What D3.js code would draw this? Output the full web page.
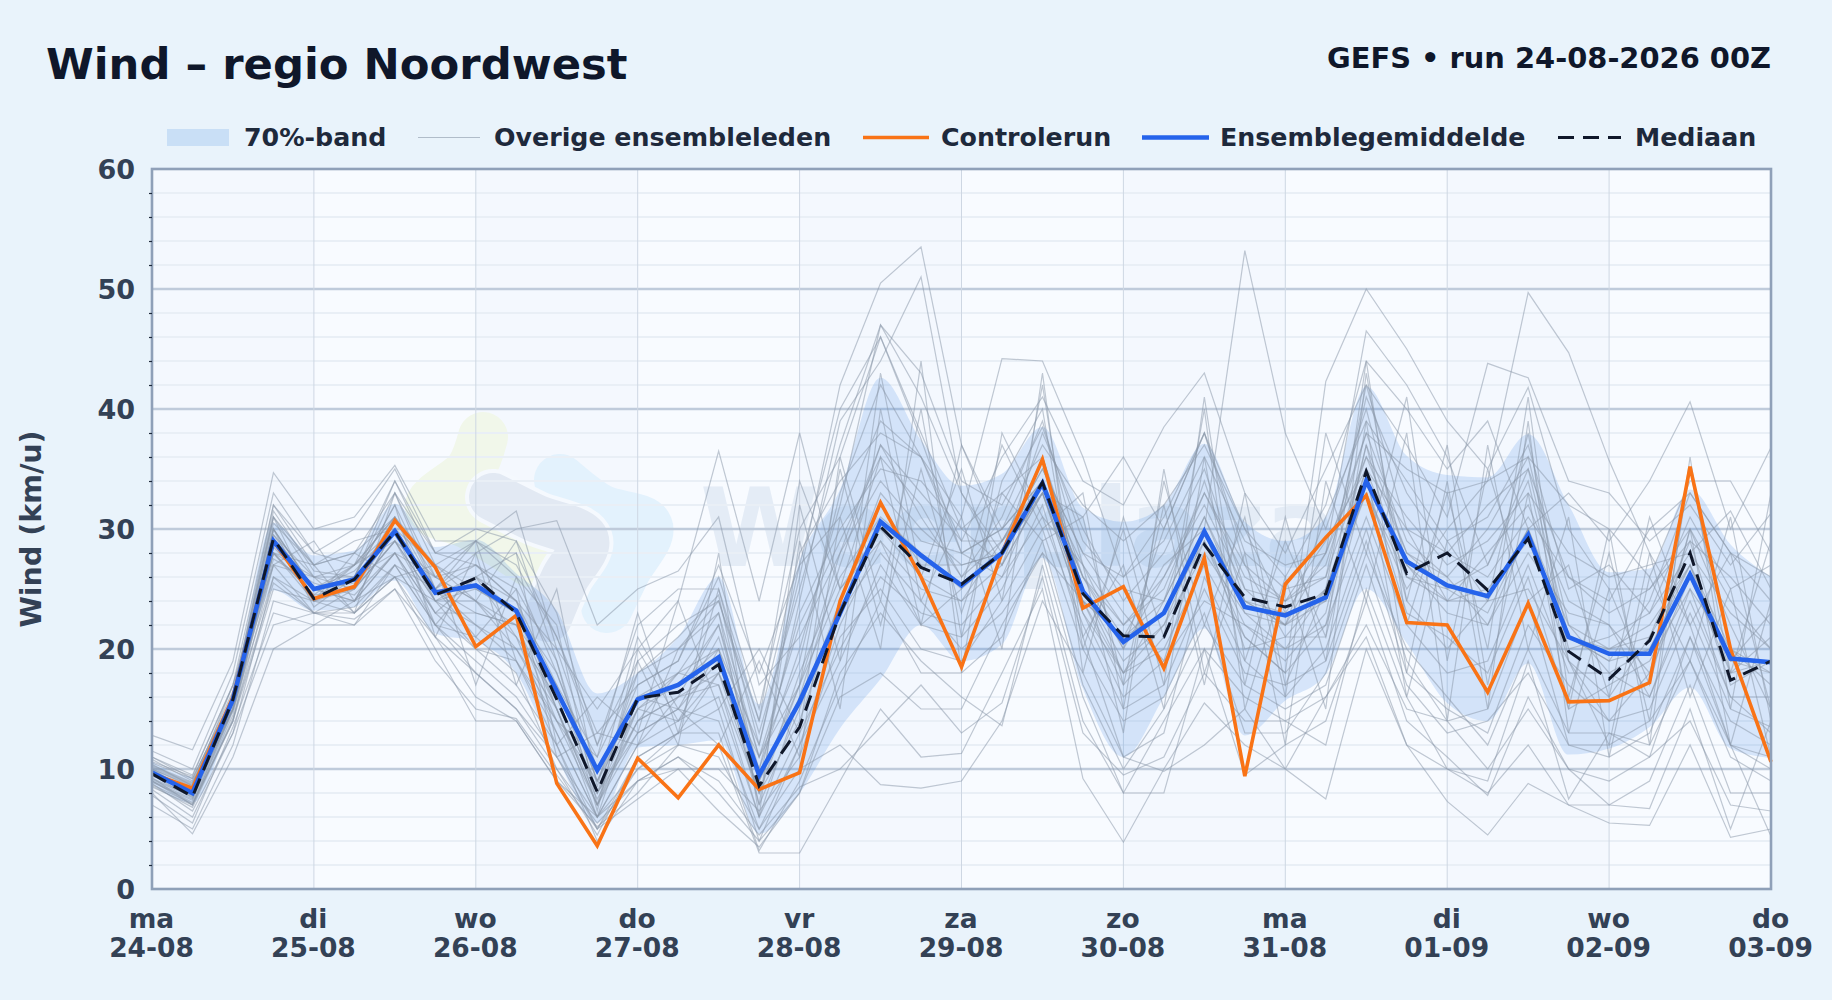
<!DOCTYPE html>
<html lang="nl">
<head>
<meta charset="utf-8">
<title>Wind - regio Noordwest</title>
<script src="https://cdn.jsdelivr.net/npm/d3@7"></script>
<style>
  html, body { margin: 0; padding: 0; background: #e9f3fb; }
  svg { display: block; font-family: "DejaVu Sans", sans-serif; }
</style>
</head>
<body>
<svg id="chart" viewBox="0 0 1832 1000" width="1832" height="1000"></svg>
<script>
// labels on the x axis, one per day
const dayNames = ["ma","di","wo","do","vr","za","zo","ma","di","wo","do"]
const dayDates = ["24-08","25-08","26-08","27-08","28-08","29-08","30-08","31-08","01-09","02-09","03-09"]
const yMajor = [0,10,20,30,40,50,60]
const yMinor = [2,4,6,8,12,14,16,18,22,24,26,28,32,34,36,38,42,44,46,48,52,54,56,58]

// every series has one value per 6 hours
const control = [9.6,8.4,16,29,24.2,25.2,30.7,26.8,20.2,22.8,8.8,3.6,10.9,7.6,12,8.3,9.7,24,32.2,26,18.5,28,35.8,23.4,25.2,18.4,27.6,9.4,25.4,29.3,32.8,22.2,22,16.4,23.8,15.6,15.7,17.2,35.2,20,10.6]
const mean = [9.7,8,15.8,29,25,25.8,29.8,24.7,25.3,23.2,16.5,9.9,15.8,17,19.3,9.5,15.6,23,30.6,27.8,25.3,28,33.8,24.8,20.6,23,29.8,23.5,22.8,24.3,34,27.3,25.3,24.4,29.5,21,19.6,19.6,26.2,19.2,18.9]
const median = [9.6,7.7,15.8,29.2,24.2,25.8,29.8,24.5,25.9,23,15.8,8.1,15.9,16.4,18.7,8.6,13.5,23,30.2,26.8,25.4,28,33.9,24.6,21.1,21,28.7,24.3,23.5,24.6,34.8,26.3,28,24.9,29.2,19.8,17.5,20.7,28,17.4,19]
const bandUpper = [10.6,9.4,16.5,30.5,27.8,28.2,32.1,28.5,29.1,26.3,23.2,16.3,18,21,26,15.4,27.4,33.3,42.6,37.4,33.6,34.6,38.5,31.8,30.6,32,37.1,30.6,29,31,41.9,36.1,34.5,34.3,37.9,32,26.4,26.7,33.3,28.7,26]
const bandLower = [8.8,7.2,14.8,24.9,23.2,23.5,25.7,21.3,20.6,18,11,5.5,11.8,12,12.4,4.6,8,13.4,17.5,22,19,20.4,27.6,16.7,11,16,21.7,12.8,15.7,17.9,25,20.5,15.5,14,18.8,11.2,11.7,13.5,16.8,11.7,10.9]

const members = [
  [10.5,9.2,16,29.5,26,27,31,26,24,20,14,9,15,14,20,12,26,42,50.5,53.5,37,30,34,26,22,26,33,27,24,26,36,28,26,30,36,22,18,20,27,20,18],
  [9.8,8,15.5,30,25,26,33,28,27,24,15,6,12,16,22,9,24,39,44,51,33,27,36,25,18,24,31,23,20,22,37,24,20,24,38,19,14,18,30,22,15],
  [9,7.5,16,31,27,29,30,25,23,22,17,11,18,20,24,14,28,34,38,36,31,44.2,44,36,26,31,38,27,21,25,42,30,24,28,32,24,22,16,24,16,13],
  [10,8.5,15,28,24,25,29,24,25,23,16,8,14,18,17,8,14,24,33,29,28,30,34,24,21,27,30,53.2,38,30,40,27,23,22,30,19,16,21,29,18,21],
  [11,9.5,17,29,25,24,28,23,26,21,13,6,16,15,14,5,12,22,29,25,24,29,35,28,23,19,24,22,20,25,33,25,30,34,49.7,44.7,35.7,28,22,12,10],
  [9.5,8.2,16,32,28,27,34,27,29,26,18,9,17,19,26,15,30,36,46,38,30,27,33,24,17,21,29,21,18,42.3,50,45,39,35,41.8,30,25,25,30,24,20],
  [8.5,7,14,27,23,25,30,25,22,19,12,5,11,13,18,10,20,32,47,41,33,28,38,30,24,28,35,25,22,28,46.5,42,36,27,35,21,19,24,33,28,26],
  [7,5,12,24,23,22,27,22,18,15,11,6,9,11,8,4,8,16,18,15,15,22,28,16,8,14,20,16,14,12,25,16,10,9,19,7.5,13,12,19,12,4.4],
  [8,4.6,11,20,22,24,26,21,16,14,9,5.2,8,12,12,3,3,9,15,11,11.3,18,25,9.2,3.9,10,15.5,12,10,16,21,12,7.3,4.5,8.8,7,5.5,5.3,12,4.3,5],
  [12.8,11.6,19,34.7,30,31,35.3,29,29,31.5,20,15,20,24,36.5,24,38,25,29,22,37,29,33,31,36,30,38,30,26,32,44,40,35,39,30,33,29,34,40.6,30,36.8],
  [11.5,10,18,33,28,30,35,28,28,30,30.7,22,25,26.5,31,17,21,28,37,33,29,36,41,34,32,38.5,43,33,28,35,42,37,31,43.8,42.6,34,33,29,32,27,31.3],
  [9.2,7.8,15,30,25,25.5,31,24,24,22,14,7,13,15,19,8,18,26,31,28,25,28,36,25,19,22,30,24,23,24,33,26,24,25,29,21,20,22,27,17,19],
  [8.8,6.5,13,22,23,23,26,20,14,14,9,6,10,12,11,5,10,12,8.7,8.4,9,14,24,18,11,9.8,12,15,10,7.5,20,12,10,8,12,7,7,6.7,15,5,14],
  [10.2,8.8,16,28,24.5,27,30,24,20,17,12,4,9,10,10,6.5,11,21,25,20,19,24,30,20,14,16,23,13,13,18,28,20,16,12,20,13,13,11,21,14,12],
  [9,7.2,14.5,29,24,24,28,26,27,24,20,10,16,17,22,11,19,33,42,36,28,26,34,27,22,25,33,26,24,27,38,29,26,22,28,23,22,18,26,19,23],
  [10.8,9,16.5,31,26,26,32,25,27,25,19,8,18,21,24.5,9,16,27,37,31,26,31,39,27,20,30,38,28,25,26,41,33,28,32,35,26,24,30,33,28,24],
  [8.3,6,13,26,23,23.5,27,22,21,18,10,4.5,11,13,15,4,12,19,27,22,21,25,32,21,11,13,26,19,16,20,30,19,14,15,24,12,11,13,21,12,11],
  [9.6,7.8,15.5,27,26,25,29,24,26,23,15,7,15,18,20,7,15,24,32,27,27,28,33,23,16,19,30,20,21,21,34,23,21,18,26,15,17,19,25,16,16],
  [10.4,8.6,17,32,27,28,33,26,29,27,21,12,19,22,24,13,25,37,47,43,34,32,38.5,29,25,24,34,24,22,31,39,34,29,31,37,25,27,23,31,25,27],
  [7.8,5.5,13.5,23,22,22,25,19,15,14.2,9.5,5,7.5,10,6.5,3.5,8,18,23,19,16,13.6,27,14,8,8,20,9.5,12,14,24,14,11,7.8,16,10,7,9,17,8,8],
  [9.4,8.4,15,30,25,24,30,27,24,21,16,8,13,15,21,10,23,30,35,34,30,33,36,26,21,23,29,22,19,23,37,28,25,27,34,20,21,23,28,23,20],
  [8.6,6.8,14,25,24,26,28,23,20,19,13,6,12,14,16,6,13,20,26,23,22,26,31,22,15,17,25,18,17,19,29,18,15,13,22,17,14,15,23,15,13.5],
  [10,8,16,28.5,25,27,31,25,28,28,21,13,17,19,27,18,27,31,39,36,29,29,35,28,26,29,36,29,27,28,36,31,27,29,33,28,26,27,28,31.5,25],
  [9,7,15,26,24,23,26,24,22,20,15,7.5,14,16,17,6,16,23,28,24,20,23,28,24,18,20,27,21,18,22,31,22,18,19,27,18,18,16,25,20,17],
  [10.3,8.9,15.8,31.5,26.5,26,34,28,30,29,23,12,22,25,25,12,27,40,46,37.5,28,30,37,32,29,32,37,30,23,28,38,35,33,34,36,32,30,26,34,34,28],
  [9.7,8.3,15.6,28,24.5,25,29,23,23,22,15,7,14,16,18,8,17,25,30,26,24,27,33,23,18,22,28,23,22,25,34,27,24,24,30,21,19,20,26,18,19],
  [8.9,7.4,14.8,27.5,25.5,24.5,28,22,19,16,11,5,10,13,13,3.2,9,17,24,18,18,21,29,17,10,15,22,17,15,17,27,17,13,14,18,12,12,14,19,11,9],
  [11,9.2,16,30.5,27,28,31,27,25,23,18,9,16,18,23,11,22,29,36,32,26,29,34,26,20,26,32,25,24,29,35,30,28,26,31,26,23,25,29,26,22],
  [9.3,7,14.2,25.5,23,22.5,25,21,18,15,10,5.5,9,11,9,4.5,8.5,10,13.5,17,13,15.5,26,13,9.5,11,18,14,14,16,22,15,14,10,15,10,9,11,14,7,6.5],
  [10,8.6,15.2,29.5,25,26.5,30,24.5,26,24,17,8,15,17,20,9,17,28,34,30,27,28,33,24,21,24,31,24,22,24,35,26,25,23,30,22,20,21,27,19,18],
  [9.5,7.6,15,28,26,23,27,25,29,19,14,11,23,13,25,14,34,25,36,22,25,37,30,33,15,34,22,31,16,38,28,41,19,35,24,27,16,31,22,28,15],
  [10.6,9.4,17,27,29,24,30,22,26,28,12,16,13,24,15,20,13,36,24,40,21,34,40,20,30,17,41,19,29,21,44,22,33,20,41,16,28,14,35,18,29],
  [8.7,7.1,14,29,24,28,26,27,17,26,22,7,19,12,28,6,32,19,43,26,35,24,42,21,27,15,36,17,31,19,39,18,34,15,39,13,25,17,30,12,24],
  [9.9,8.1,15.5,30,23.5,26,32,21,28,17,25,8.5,21,15,12,19,11,31,20,44,18,38,31,27,13,35,18,28,12,34,24,38,14,37,20,31,11,26,19,31,14],
  [10.1,8.7,16,28,27,23,33,25,21,25,11,13,12,20,23,7,29,15,40,24,31,20,43,18,31,21,40,15,26,15,43,24,37,17,33,15,30,12,36,15,33],
  [9.1,7.7,15,31,24,27,29,26,24,29,19,6.5,20,14,18,11,17,35,22,35,23,33,29,31,17,32,17,33,17,25,35,16,29,24,25,19,12,28,16,25,11]
]

const svg = d3.select("#chart")
const plot = {left: 152, right: 1771, top: 169, bottom: 889}

const x = d3.scaleLinear().domain([0, 240]).range([plot.left, plot.right])
const y = d3.scaleLinear().domain([0, 60]).range([plot.bottom, plot.top])

const lineOf = d3.line().x((d, i) => x(i * 6)).y(d => y(d))

svg.append("rect").attr("width", 1832).attr("height", 1000).attr("fill", "#e9f3fb")

// Plot background with a slightly darker tone on every other day
svg.append("rect")
    .attr("x", plot.left).attr("y", plot.top)
    .attr("width", plot.right - plot.left).attr("height", plot.bottom - plot.top)
    .attr("fill", "#f8fbff")
svg.append("g").selectAll("rect")
    .data(d3.range(0, 240, 48))
    .enter().append("rect")
    .attr("x", d => x(d)).attr("y", plot.top)
    .attr("width", x(24) - x(0)).attr("height", plot.bottom - plot.top)
    .attr("fill", "#eaf1fa").attr("opacity", 0.28)

// Faint logo and name behind the grid
const logo = svg.append("g").attr("fill", "none").attr("stroke-linecap", "round").attr("stroke-linejoin", "round")
const blob = d3.line().curve(d3.curveCatmullRom)
const greyBlob = [[493,497],[535,518],[585,540],[565,578],[548,618]]
logo.append("path").attr("d", blob([[483,437],[470,470],[430,507],[470,525],[530,562]]))
    .attr("stroke", "#f1f7ea").attr("stroke-width", 50)
logo.append("path").attr("d", blob([[560,480],[600,510],[647,527],[625,570],[607,607]]))
    .attr("stroke", "#e3f2fd").attr("stroke-width", 52)
logo.append("path").attr("d", blob(greyBlob))
    .attr("stroke", "#f5f9fe").attr("stroke-width", 56)
logo.append("path").attr("d", blob(greyBlob))
    .attr("stroke", "#e2e9f3").attr("stroke-width", 48)
svg.append("text")
    .attr("x", 700).attr("y", 566)
    .attr("font-size", 108).attr("font-weight", 700)
    .attr("fill", "#e4ecf6")
    .text("Weerplaza")

// Grid
const grid = svg.append("g")
grid.selectAll(".minor").data(yMinor).enter().append("line")
    .attr("x1", plot.left).attr("x2", plot.right)
    .attr("y1", d => y(d)).attr("y2", d => y(d))
    .attr("stroke", "#e9eff6").attr("stroke-width", 2)
grid.selectAll(".major").data(yMajor.slice(1, -1)).enter().append("line")
    .attr("x1", plot.left).attr("x2", plot.right)
    .attr("y1", d => y(d)).attr("y2", d => y(d))
    .attr("stroke", "#bfcbdb").attr("stroke-width", 2.5)
grid.selectAll(".day").data(d3.range(24, 240, 24)).enter().append("line")
    .attr("x1", d => x(d)).attr("x2", d => x(d))
    .attr("y1", plot.top).attr("y2", plot.bottom)
    .attr("stroke", "#ced7e3").attr("stroke-width", 1)

// 70% band
svg.append("path")
    .attr("d", d3.area().curve(d3.curveMonotoneX)
        .x((d, i) => x(i * 6))
        .y0((d, i) => y(bandLower[i]))
        .y1(d => y(d))(bandUpper))
    .attr("fill", "#2f7ae0").attr("fill-opacity", 0.17)

// Ensemble members
svg.append("g").selectAll("path")
    .data(members)
    .enter().append("path")
    .attr("d", lineOf)
    .attr("fill", "none")
    .attr("stroke", "#8b97a8").attr("stroke-opacity", 0.52).attr("stroke-width", 1.2)

svg.append("path").attr("d", lineOf(control))
    .attr("fill", "none").attr("stroke", "#f97316").attr("stroke-width", 3.6).attr("stroke-linejoin", "miter")
svg.append("path").attr("d", lineOf(mean))
    .attr("fill", "none").attr("stroke", "#2563eb").attr("stroke-width", 4.6)
svg.append("path").attr("d", lineOf(median))
    .attr("fill", "none").attr("stroke", "#0f172a").attr("stroke-width", 3).attr("stroke-dasharray", "16 9")

// Plot frame
svg.append("rect")
    .attr("x", plot.left).attr("y", plot.top)
    .attr("width", plot.right - plot.left).attr("height", plot.bottom - plot.top)
    .attr("fill", "none").attr("stroke", "#8fa0b8").attr("stroke-width", 2.6)

// Axes
const yAxis = svg.append("g")
    .attr("transform", `translate(${plot.left},1)`)
    .call(d3.axisLeft(y).tickValues(yMajor).tickSize(0).tickPadding(17))
yAxis.select(".domain").remove()
yAxis.selectAll("text")
    .attr("font-size", 27).attr("font-weight", 700).attr("fill", "#334155")
    .attr("font-family", "DejaVu Sans")

const yMinorAxis = svg.append("g")
    .attr("transform", `translate(${plot.left},0)`)
    .call(d3.axisLeft(y).tickValues(yMinor).tickSize(3).tickFormat(""))
yMinorAxis.select(".domain").remove()
yMinorAxis.selectAll("line").attr("stroke", "#1e293b").attr("stroke-width", 1.2)

const xAxis = svg.append("g")
    .attr("transform", `translate(0,${plot.bottom})`)
    .call(d3.axisBottom(x).tickValues(d3.range(0, 241, 24)).tickSize(0).tickFormat(""))
xAxis.select(".domain").remove()
xAxis.selectAll(".tick text").each(function(d) {
    const t = d3.select(this)
        .attr("y", 0).attr("dy", null)
        .attr("font-size", 26.5).attr("font-weight", 700).attr("fill", "#334155")
        .attr("font-family", "DejaVu Sans")
    t.append("tspan").attr("x", -1).attr("y", 39).text(dayNames[d / 24])
    t.append("tspan").attr("x", -1).attr("y", 68).text(dayDates[d / 24])
})

svg.append("text")
    .attr("transform", `translate(41,${(plot.top + plot.bottom) / 2}) rotate(-90)`)
    .attr("text-anchor", "middle")
    .attr("font-size", 28.5).attr("font-weight", 700).attr("fill", "#334155")
    .text("Wind (km/u)")

// Titles
svg.append("text").attr("x", 46).attr("y", 79)
    .attr("font-size", 43.3).attr("font-weight", 700).attr("fill", "#0f172a")
    .text("Wind – regio Noordwest")
svg.append("text").attr("x", 1771).attr("y", 68).attr("text-anchor", "end")
    .attr("font-size", 28.9).attr("font-weight", 700).attr("fill", "#0f172a")
    .text("GEFS • run 24-08-2026 00Z")

// Legend
const legendY = 137.5
const legend = svg.append("g")
legend.append("rect").attr("x", 167).attr("y", 129).attr("width", 62).attr("height", 17)
    .attr("fill", "#2f7ae0").attr("fill-opacity", 0.17)
const legendLines = [
    {x1: 418, x2: 480, color: "#8b97a8", w: 1.2, op: 0.6, dash: null},
    {x1: 863, x2: 929, color: "#f97316", w: 3.6, op: 1, dash: null},
    {x1: 1142, x2: 1209, color: "#2563eb", w: 4.6, op: 1, dash: null},
    {x1: 1558, x2: 1621, color: "#0f172a", w: 3, op: 1, dash: "16 9"}
]
legend.selectAll("line").data(legendLines).enter().append("line")
    .attr("x1", d => d.x1).attr("x2", d => d.x2)
    .attr("y1", legendY).attr("y2", legendY)
    .attr("stroke", d => d.color).attr("stroke-width", d => d.w)
    .attr("stroke-opacity", d => d.op).attr("stroke-dasharray", d => d.dash)
const legendLabels = [
    {x: 244, label: "70%-band"},
    {x: 494, label: "Overige ensembleleden"},
    {x: 941, label: "Controlerun"},
    {x: 1220, label: "Ensemblegemiddelde"},
    {x: 1635, label: "Mediaan"}
]
legend.selectAll("text").data(legendLabels).enter().append("text")
    .attr("x", d => d.x).attr("y", 146)
    .attr("font-size", 25.3).attr("font-weight", 700).attr("fill", "#1e293b")
    .text(d => d.label)
</script>
</body>
</html>
